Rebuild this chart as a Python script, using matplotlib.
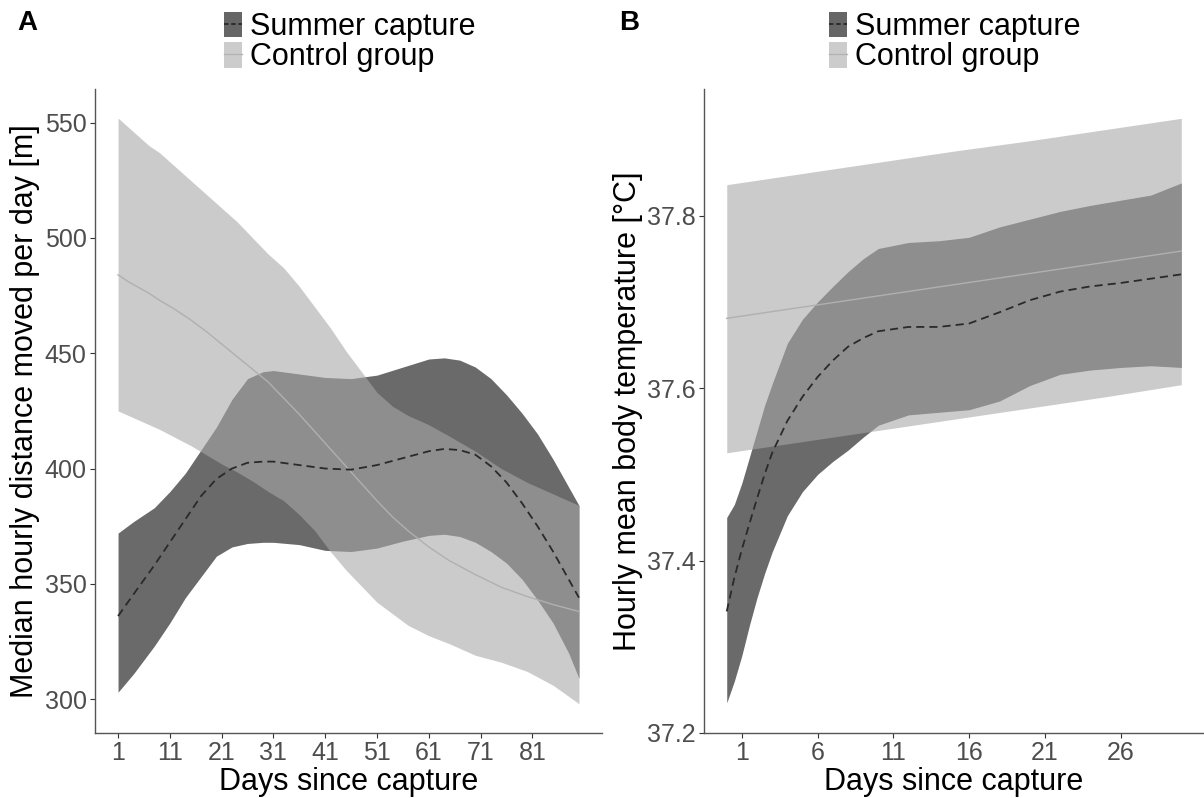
import numpy as np
import matplotlib
matplotlib.use('Agg')
import matplotlib.pyplot as plt
from matplotlib.patches import Patch
from matplotlib.lines import Line2D

plt.rcParams['font.family'] = ['Liberation Sans', 'DejaVu Sans']

# ---- panel A: median hourly distance moved per day [m] ----
days_a_s = [1, 4, 8, 11, 14, 17, 20, 23, 26, 29, 31, 36, 41, 46, 51, 56, 61, 64, 67, 70,
            73, 76, 79, 82, 85, 88, 90]
summer_a = [336, 345.5, 358, 368, 378, 388, 395.5, 400, 402.5, 403, 403, 401.5, 400, 399.5,
            401.5, 404.5, 407.5, 408.5, 408, 406, 401, 394, 385, 375, 364, 352, 344]
summer_a_hi = [372, 377, 383, 390, 398, 408, 418, 430, 439, 442, 442.5, 441, 439.5, 439,
               440.5, 444, 447.5, 448, 447, 444, 439, 432, 424, 415, 404, 392, 384]
summer_a_lo = [303, 311, 323, 333, 344, 353, 362, 366, 367.5, 368, 368, 367, 364.5, 364,
               365.5, 368.5, 371, 371.5, 370.5, 368, 364, 359, 352, 343, 333, 320, 309]

days_a_c = [1, 3, 5, 7, 9, 12, 15, 18, 21, 24, 27, 30, 33, 36, 39, 42, 45, 48, 51, 54,
            57, 61, 65, 70, 75, 80, 85, 90]
control_a = [484, 481, 478.5, 476, 473, 469, 464.5, 459.5, 454, 448.5, 443, 437.5, 430.5,
             423.5, 416, 408.5, 401, 393.5, 386, 379, 373, 366, 360, 354, 348.5, 344.5, 341, 338]
control_a_hi = [552, 548, 544, 540, 537, 531, 525, 519, 513, 507, 500, 493, 487, 479, 470,
                461, 451, 442, 433, 427, 423, 419, 414, 407.5, 400, 394, 389, 384]
control_a_lo = [425, 423, 421, 419, 417, 413.5, 410, 406, 402, 398.5, 394.5, 390, 386, 380,
                373, 364, 356, 349, 342, 337, 332, 327.5, 324, 319, 316, 312, 306, 298]
xticks_a = [1, 11, 21, 31, 41, 51, 61, 71, 81]
yticks_a = [300, 350, 400, 450, 500, 550]

# ---- panel B: hourly mean body temperature [°C] ----
days_b = [0, 0.5, 1, 1.5, 2, 2.5, 3, 4, 5, 6, 7, 8, 9, 10, 12, 14, 16, 18, 20, 22, 24,
          26, 28, 30]
summer_b = [37.341, 37.38, 37.413, 37.443, 37.472, 37.50, 37.525, 37.562, 37.59, 37.613,
            37.632, 37.648, 37.658, 37.666, 37.671, 37.671, 37.675, 37.688, 37.702, 37.712,
            37.718, 37.722, 37.727, 37.732]
summer_b_lo = [37.235, 37.26, 37.29, 37.325, 37.357, 37.385, 37.41, 37.452, 37.48, 37.50,
               37.515, 37.528, 37.543, 37.557, 37.569, 37.572, 37.575, 37.585, 37.603, 37.616,
               37.621, 37.624, 37.626, 37.624]
summer_b_hi = [37.45, 37.465, 37.49, 37.52, 37.55, 37.58, 37.605, 37.652, 37.68, 37.70,
               37.718, 37.735, 37.75, 37.762, 37.769, 37.771, 37.775, 37.787, 37.796, 37.805,
               37.812, 37.818, 37.824, 37.838]
days_b_ctrl = [0, 5, 10, 15, 20, 25, 30]
control_b = [37.681, 37.694, 37.707, 37.720, 37.733, 37.746, 37.759]
control_b_lo = [37.525, 37.538, 37.551, 37.564, 37.577, 37.590, 37.604]
control_b_hi = [37.836, 37.849, 37.862, 37.875, 37.887, 37.900, 37.913]
xticks_b = [1, 6, 11, 16, 21, 26]
yticks_b = [37.2, 37.4, 37.6, 37.8]

labels = ['Summer capture', 'Control group']

SUMMER_FILL = '#6a6a6a'
CTRL_FILL = '#a8a8a8'
CTRL_ALPHA = 0.59
CTRL_LINE = '#b0b0b0'
DASH_COL = '#2a2a2a'


def style_axis(ax, xlab, ylab, xticks, yticks, ytickfmt=None):
    for s in ['top', 'right']:
        ax.spines[s].set_visible(False)
    for s in ['left', 'bottom']:
        ax.spines[s].set_color('#555555')
        ax.spines[s].set_linewidth(1.0)
    ax.set_xticks(xticks)
    ax.set_yticks(yticks)
    if ytickfmt:
        ax.set_yticklabels([ytickfmt.format(v) for v in yticks])
    ax.tick_params(axis='both', length=3.5, width=0.8, color='#333333',
                   labelsize=18, labelcolor='#4d4d4d', pad=2.5)
    ax.set_xlabel(xlab, fontsize=22, labelpad=1)
    ax.set_ylabel(ylab, fontsize=22, labelpad=3)


def draw_panel(ax, xs, s, slo, shi, xc, c, clo, chi):
    ax.fill_between(xs, slo, shi, color=SUMMER_FILL, lw=0, zorder=1)
    ax.fill_between(xc, clo, chi, color=CTRL_FILL, alpha=CTRL_ALPHA, lw=0, zorder=2)
    ax.plot(xc, c, color=CTRL_LINE, lw=1.0, zorder=3)
    ax.plot(xs, s, color=DASH_COL, lw=1.3, ls=(0, (4.5, 2.8)), zorder=4)


def add_legend(fig, x, y):
    h1 = (Patch(facecolor='#666666', edgecolor='none'),
          Line2D([], [], color=DASH_COL, lw=1.3, ls=(0, (2.5, 1.5))))
    h2 = (Patch(facecolor='#cccccc', edgecolor='none'),
          Line2D([], [], color='#b3b3b3', lw=1.0))
    fig.legend([h1, h2], labels, loc='upper left', bbox_to_anchor=(x, y),
               frameon=False, fontsize=22, handlelength=0.6, handleheight=0.9,
               handletextpad=0.25, labelspacing=0.0, borderpad=0, borderaxespad=0)


W, H = 1204, 798
fig = plt.figure(figsize=(W / 100, H / 100), dpi=100)

axA = fig.add_axes([95 / W, 1 - 733 / H, (602 - 95) / W, (733 - 89) / H])
draw_panel(axA, days_a_s, summer_a, summer_a_lo, summer_a_hi,
           days_a_c, control_a, control_a_lo, control_a_hi)
axA.set_xlim(-3.45, 94.45)
axA.set_ylim(285.3, 564.6)
style_axis(axA, 'Days since capture', 'Median hourly distance moved per day [m]',
           xticks_a, yticks_a)

axB = fig.add_axes([704 / W, 1 - 733 / H, (1204 - 704) / W, (733 - 89) / H])
draw_panel(axB, days_b, summer_b, summer_b_lo, summer_b_hi,
           days_b_ctrl, control_b, control_b_lo, control_b_hi)
axB.set_xlim(-1.5, 31.5)
axB.set_ylim(37.2, 37.947)
style_axis(axB, 'Days since capture', 'Hourly mean body temperature [°C]',
           xticks_b, yticks_b, '{:.1f}')

add_legend(fig, 224 / W, 1 - 12 / H)
add_legend(fig, 829 / W, 1 - 12 / H)

fig.text(17 / W, 1 - 23 / H, 'A', fontsize=20, fontweight='bold', va='center', ha='left')
fig.text(619 / W, 1 - 23 / H, 'B', fontsize=20, fontweight='bold', va='center', ha='left')

fig.savefig('out.png', dpi=100)
